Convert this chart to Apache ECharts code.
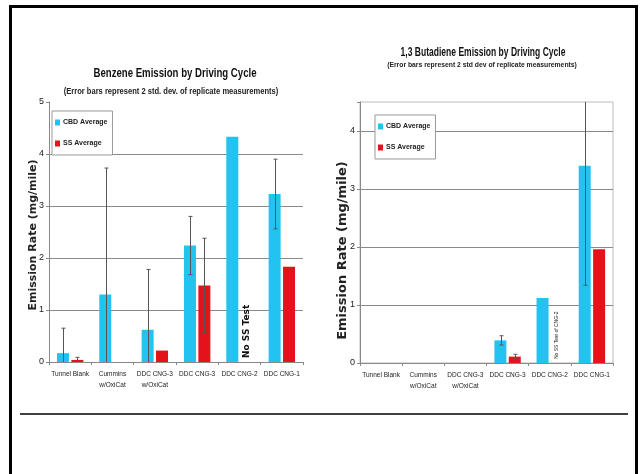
<!DOCTYPE html>
<html>
<head>
<meta charset="utf-8">
<script src="https://cdn.jsdelivr.net/npm/echarts@6/dist/echarts.min.js"></script>
<style>
  html, body { margin: 0; padding: 0; background: #fff; }
  #chart { width: 644px; height: 474px; }
</style>
</head>
<body>
<div id="chart"></div>
<script>
// Driving cycles (shared by both panels)
var cycles = ['Tunnel Blank', 'Cummins\nw/OxiCat', 'DDC CNG-3\nw/OxiCat', 'DDC CNG-3', 'DDC CNG-2', 'DDC CNG-1'];

// Benzene emission rate (mg/mile) and 2 std. dev. error
var benzeneCbd    = [0.17, 1.30, 0.62, 2.24, 4.33, 3.23];
var benzeneCbdErr = [0.48, 2.43, 1.16, 0.56, null, 0.67];
var benzeneSs     = [0.04, null, 0.22, 1.47, null, 1.83];
var benzeneSsErr  = [0.05, null, null, 0.91, null, null];

// 1,3 Butadiene emission rate (mg/mile) and 2 std dev error
var butadieneCbd    = [null, null, null, 0.39, 1.12, 3.40];
var butadieneCbdErr = [null, null, null, 0.08, null, 2.06];
var butadieneSs     = [null, null, null, 0.11, null, 1.96];
var butadieneSsErr  = [null, null, null, 0.04, null, null];

// Y axis ticks
var benzeneTicks   = { min: 0, max: 5, interval: 1 };
var butadieneTicks = { min: 0, max: 4.5, interval: 1 };

var CBD = '#22C3EE';
var SS = '#E3121B';
var SANS = '"Liberation Sans", Arial, sans-serif';
var WIDE = '"DejaVu Sans", Verdana, sans-serif';

// [category, low, high] triples for the error bars
function errorData(means, errs) {
  var out = [];
  for (var i = 0; i < means.length; i++) {
    if (means[i] != null && errs[i] != null) {
      out.push([i, means[i] - errs[i], means[i] + errs[i]]);
    }
  }
  return out;
}

function errorRenderer(offset) {
  return function (params, api) {
    var cat = api.value(0);
    var lo = api.coord([cat, api.value(1)]);
    var hi = api.coord([cat, api.value(2)]);
    var x = Math.round(hi[0] + offset) + 0.5;
    var st = { stroke: '#555', lineWidth: 1 };
    return {
      type: 'group',
      children: [
        { type: 'line', shape: { x1: x, y1: hi[1], x2: x, y2: lo[1] }, style: st },
        { type: 'line', shape: { x1: x - 2, y1: hi[1], x2: x + 2, y2: hi[1] }, style: st },
        { type: 'line', shape: { x1: x - 2, y1: lo[1], x2: x + 2, y2: lo[1] }, style: st }
      ]
    };
  };
}

function noteRenderer(text, font, offset) {
  return function (params, api) {
    var p = api.coord([api.value(0), 0]);
    return {
      type: 'text',
      x: p[0] + offset,
      y: p[1] - 4,
      rotation: Math.PI / 2,
      style: { text: text, font: font, fill: '#111', align: 'left', verticalAlign: 'middle' }
    };
  };
}

function yAxisFor(gridIndex, ticks, nameSize, nameGap, namePad) {
  return {
    gridIndex: gridIndex,
    type: 'value',
    min: ticks.min, max: ticks.max, interval: ticks.interval,
    name: 'Emission Rate (mg/mile)',
    nameLocation: 'middle',
    nameRotate: 90,
    nameGap: nameGap,
    nameMoveOverlap: false,
    nameTextStyle: { fontFamily: WIDE, fontWeight: 'bold', fontSize: nameSize, color: '#222', padding: namePad },
    axisLine: { show: true, lineStyle: { color: '#888', width: 1 } },
    axisTick: { show: true, length: 3, lineStyle: { color: '#888' } },
    axisLabel: {
      fontFamily: SANS, fontSize: 9, color: '#222', margin: 5,
      formatter: function (v) { return (v % 1 === 0) ? String(v) : ''; }
    },
    splitLine: { show: true, showMinLine: false, showMaxLine: false, lineStyle: { color: '#8a8a8a', width: 1 } }
  };
}

function xAxisFor(gridIndex) {
  return {
    gridIndex: gridIndex,
    type: 'category',
    data: cycles,
    axisLine: { lineStyle: { color: '#888', width: 1 } },
    axisTick: { show: true, length: 3, lineStyle: { color: '#888' } },
    axisLabel: { interval: 0, fontFamily: SANS, fontSize: 6.5, lineHeight: 11, color: '#222', margin: 7 }
  };
}

function legendAt(left, top) {
  return {
    left: left, top: top,
    orient: 'vertical',
    selectedMode: false,
    data: ['CBD Average', 'SS Average'],
    icon: 'rect',
    itemWidth: 5, itemHeight: 6,
    itemGap: 14,
    padding: [8, 5, 8, 3],
    backgroundColor: '#fff',
    borderColor: '#999', borderWidth: 1,
    textStyle: { fontFamily: SANS, fontWeight: 'bold', fontSize: 7, color: '#222', padding: [0, 0, 0, -2] }
  };
}

var chart = echarts.init(document.getElementById('chart'), null, { renderer: 'canvas' });

chart.setOption({
  backgroundColor: '#fff',
  animation: false,
  grid: [
    { left: 49, top: 102, right: 341, bottom: 112 },
    { left: 360, top: 102, right: 31, bottom: 111, show: true, borderColor: '#bbb', borderWidth: 1, backgroundColor: 'transparent' }
  ],
  xAxis: [xAxisFor(0), xAxisFor(1)],
  yAxis: [
    yAxisFor(0, benzeneTicks, 11, 10, [0, 6, 0, 0]),
    yAxisFor(1, butadieneTicks, 13, 11, [0, 36, 0, 0])
  ],
  legend: [legendAt(52, 111), legendAt(375, 115)],
  series: [
    { name: 'CBD Average', type: 'bar', xAxisIndex: 0, yAxisIndex: 0, data: benzeneCbd, barWidth: 12, barGap: '20%', itemStyle: { color: CBD } },
    { name: 'SS Average',  type: 'bar', xAxisIndex: 0, yAxisIndex: 0, data: benzeneSs,  barWidth: 12, barGap: '20%', itemStyle: { color: SS } },
    { name: 'CBD Average', type: 'bar', xAxisIndex: 1, yAxisIndex: 1, data: butadieneCbd, barWidth: 12, barGap: '20%', itemStyle: { color: CBD } },
    { name: 'SS Average',  type: 'bar', xAxisIndex: 1, yAxisIndex: 1, data: butadieneSs,  barWidth: 12, barGap: '20%', itemStyle: { color: SS } },
    { type: 'custom', xAxisIndex: 0, yAxisIndex: 0, clip: true, z: 5, renderItem: errorRenderer(-7), data: errorData(benzeneCbd, benzeneCbdErr) },
    { type: 'custom', xAxisIndex: 0, yAxisIndex: 0, clip: true, z: 5, renderItem: errorRenderer(7),  data: errorData(benzeneSs, benzeneSsErr) },
    { type: 'custom', xAxisIndex: 1, yAxisIndex: 1, clip: true, z: 5, renderItem: errorRenderer(-7), data: errorData(butadieneCbd, butadieneCbdErr) },
    { type: 'custom', xAxisIndex: 1, yAxisIndex: 1, clip: true, z: 5, renderItem: errorRenderer(7),  data: errorData(butadieneSs, butadieneSsErr) },
    { type: 'custom', xAxisIndex: 0, yAxisIndex: 0, z: 6, renderItem: noteRenderer('No SS Test', 'bold 9px ' + WIDE, 7), data: [[4]] },
    { type: 'custom', xAxisIndex: 1, yAxisIndex: 1, z: 6, renderItem: noteRenderer('No SS Test of CNG-2', '5px ' + SANS, 7), data: [[4]] }
  ],
  graphic: [
    // slide frame and divider rule
    { type: 'rect', shape: { x: 10.5, y: 6.5, width: 626, height: 490 }, style: { fill: 'none', stroke: '#000', lineWidth: 3 }, z: 100 },
    { type: 'line', shape: { x1: 20, y1: 414, x2: 628, y2: 414 }, style: { stroke: '#000', lineWidth: 1.5 }, z: 100 },
    // panel titles (condensed horizontally)
    { type: 'text', x: 175, y: 73, scaleX: 0.74, style: { text: 'Benzene Emission by Driving Cycle', font: 'bold 13px ' + SANS, fill: '#111', align: 'center', verticalAlign: 'middle' } },
    { type: 'text', x: 171, y: 92, scaleX: 0.84, style: { text: '(Error bars represent 2 std. dev. of replicate measurements)', font: 'bold 9px ' + SANS, fill: '#222', align: 'center', verticalAlign: 'middle' } },
    { type: 'text', x: 483, y: 53, scaleX: 0.71, style: { text: '1,3 Butadiene Emission by Driving Cycle', font: 'bold 12px ' + SANS, fill: '#111', align: 'center', verticalAlign: 'middle' } },
    { type: 'text', x: 482, y: 65, scaleX: 0.85, style: { text: '(Error bars represent 2 std dev of replicate measurements)', font: 'bold 8px ' + SANS, fill: '#222', align: 'center', verticalAlign: 'middle' } }
  ]
});
</script>
</body>
</html>
